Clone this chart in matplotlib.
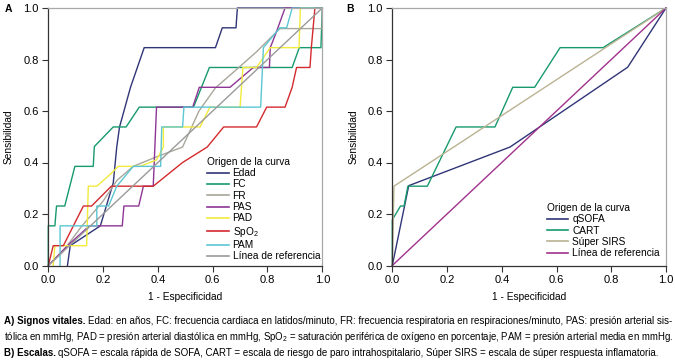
import matplotlib
matplotlib.use("Agg")
import matplotlib.pyplot as plt

plt.rcParams['font.family'] = ['Liberation Sans', 'DejaVu Sans']
plt.rcParams['mathtext.default'] = 'regular'

# ---- panel A: vital signs ROC curves (1 - specificity, sensitivity)
edad_x = [0.07, 0.07, 0.08, 0.19, 0.237, 0.243, 0.25, 0.26, 0.30, 0.35, 0.61, 0.635, 0.685, 0.69, 1.0]
edad_y = [0.0, 0.0, 0.077, 0.154, 0.32, 0.385, 0.462, 0.538, 0.692, 0.846, 0.846, 0.923, 0.923, 1.0, 1.0]
fc_x = [0.0, 0.0, 0.024, 0.03, 0.06, 0.097, 0.164, 0.168, 0.237, 0.284, 0.332, 0.53, 0.588, 0.89, 0.916, 0.995, 1.0]
fc_y = [0.0, 0.154, 0.154, 0.231, 0.231, 0.385, 0.385, 0.462, 0.538, 0.538, 0.615, 0.615, 0.769, 0.769, 0.846, 0.846, 1.0]
fr_x = [0.0, 0.05, 0.12, 0.2, 0.25, 0.31, 0.39, 0.49, 0.55, 0.61, 0.675, 0.76, 0.845, 1.0, 1.0]
fr_y = [0.0, 0.05, 0.15, 0.25, 0.33, 0.385, 0.42, 0.46, 0.60, 0.69, 0.75, 0.83, 0.92, 0.92, 1.0]
pas_x = [0.0, 0.07, 0.15, 0.27, 0.276, 0.33, 0.347, 0.383, 0.395, 0.527, 0.551, 0.663, 0.748, 0.807, 0.81, 0.83, 0.864, 1.0]
pas_y = [0.0, 0.077, 0.154, 0.154, 0.231, 0.231, 0.308, 0.308, 0.615, 0.615, 0.692, 0.692, 0.769, 0.769, 0.846, 0.9, 1.0, 1.0]
pad_x = [0.018, 0.024, 0.14, 0.146, 0.177, 0.23, 0.255, 0.335, 0.395, 0.42, 0.42, 0.554, 0.59, 0.70, 0.71, 0.76, 0.81, 0.915, 0.92, 1.0]
pad_y = [0.0, 0.077, 0.077, 0.308, 0.308, 0.358, 0.385, 0.385, 0.41, 0.46, 0.538, 0.538, 0.615, 0.615, 0.769, 0.769, 0.846, 0.846, 1.0, 1.0]
spo2_x = [0.0, 0.018, 0.055, 0.128, 0.158, 0.23, 0.383, 0.49, 0.58, 0.64, 0.76, 0.797, 0.864, 0.89, 0.906, 0.955, 0.96, 0.973, 1.0]
spo2_y = [0.0, 0.077, 0.077, 0.231, 0.231, 0.308, 0.308, 0.40, 0.46, 0.538, 0.538, 0.615, 0.615, 0.692, 0.769, 0.769, 0.846, 1.0, 1.0]
pam_x = [0.043, 0.043, 0.177, 0.177, 0.22, 0.25, 0.31, 0.41, 0.414, 0.49, 0.495, 0.775, 0.785, 0.845, 0.87, 0.89, 1.0]
pam_y = [0.0, 0.154, 0.154, 0.231, 0.231, 0.308, 0.385, 0.385, 0.538, 0.538, 0.615, 0.615, 0.846, 0.923, 0.923, 1.0, 1.0]
ref_x = [0.0, 1.0]
ref_y = [0.0, 1.0]

# ---- panel B: scales
qsofa_x = [0.0, 0.06, 0.43, 0.86, 1.0]
qsofa_y = [0.0, 0.31, 0.46, 0.77, 1.0]
cart_x = [0.0, 0.0, 0.03, 0.043, 0.057, 0.128, 0.233, 0.375, 0.44, 0.52, 0.613, 0.77, 1.0]
cart_y = [0.0, 0.177, 0.231, 0.231, 0.308, 0.308, 0.538, 0.538, 0.692, 0.692, 0.846, 0.846, 1.0]
sirs_x = [0.0, 0.006, 1.0]
sirs_y = [0.0, 0.308, 1.0]

curves_a = [
    ("Edad", edad_x, edad_y, "#2f3577"),
    ("FC", fc_x, fc_y, "#179a6c"),
    ("FR", fr_x, fr_y, "#a9a79b"),
    ("PAS", pas_x, pas_y, "#8e3596"),
    ("PAD", pad_x, pad_y, "#f2ea3c"),
    ("SpO$_2$", spo2_x, spo2_y, "#d42a2e"),
    ("PAM", pam_x, pam_y, "#5cc6d2"),
    ("Línea de referencia", ref_x, ref_y, "#9a9a9a"),
]
curves_b = [
    ("qSOFA", qsofa_x, qsofa_y, "#2f3577"),
    ("CART", cart_x, cart_y, "#179a6c"),
    ("Súper SIRS", sirs_x, sirs_y, "#b9b293"),
    ("Línea de referencia", ref_x, ref_y, "#a0328c"),
]

W, H = 675, 361
fig = plt.figure(figsize=(W / 100, H / 100), dpi=100)


def setup(ax):
    ax.set_xlim(0, 1)
    ax.set_ylim(0, 1)
    ticks = [0.0, 0.2, 0.4, 0.6, 0.8, 1.0]
    ax.set_xticks(ticks)
    ax.set_yticks(ticks)
    ax.set_xticklabels(["%.1f" % t for t in ticks])
    ax.set_yticklabels(["%.1f" % t for t in ticks])
    ax.tick_params(direction='out', length=4, width=0.8, labelsize=8,
                   color="#333333", pad=3)
    for s in ["left", "bottom"]:
        ax.spines[s].set_color("#333333")
        ax.spines[s].set_linewidth(0.9)
    for s in ["top", "right"]:
        ax.spines[s].set_color("#a8a8a8")
        ax.spines[s].set_linewidth(0.9)
    ax.set_xlabel("1 - Especificidad", fontsize=7.3)
    ax.set_ylabel("Sensibilidad", fontsize=7.3)
    ax.xaxis.set_label_coords(0.5, -0.102)
    ax.yaxis.set_label_coords(-0.125, 0.5)


ax_a = fig.add_axes([48.3 / W, 1 - 265.5 / H, 274 / W, 257.5 / H])
ax_b = fig.add_axes([392.3 / W, 1 - 265.5 / H, 273.7 / W, 257.5 / H])

for ax, curves, anchor in [(ax_a, curves_a, (0.58, 0.422)),
                           (ax_b, curves_b, (0.565, 0.243))]:
    setup(ax)
    for name, xs, ys, col in curves:
        ax.plot(xs, ys, color=col, lw=1.0, label=name, clip_on=False)
    leg = ax.legend(loc="upper left", bbox_to_anchor=anchor, frameon=False,
                    title="Origen de la curva", fontsize=7.3,
                    title_fontsize=7.3, alignment="left", borderpad=0,
                    borderaxespad=0, handlelength=2.1, handletextpad=0.4,
                    labelspacing=0.13)
    for line in leg.get_lines():
        line.set_linewidth(1.2)

fig.text(8 / W, 1 - 9 / H, "A", fontsize=7.5, weight="bold", ha="center", va="center")
fig.text(350 / W, 1 - 9 / H, "B", fontsize=7.5, weight="bold", ha="center", va="center")

# ---- caption with bold lead-ins
renderer = fig.canvas.get_renderer()


def rich_line(y_px, parts, size):
    x = 4 / W
    for text, weight in parts:
        t = fig.text(x, 1 - y_px / H, text, fontsize=size, weight=weight,
                     ha="left", va="center")
        bb = t.get_window_extent(renderer=renderer)
        x = bb.x1 / W + 2.5 / W


rich_line(321, [("A) Signos vitales.", "bold"),
                ("Edad: en años, FC: frecuencia cardiaca en latidos/minuto, FR: frecuencia respiratoria "
                 "en respiraciones/minuto, PAS: presión arterial sis-", "normal")], 7.0)
rich_line(337, [("tólica en mmHg, PAD = presión arterial diastólica en mmHg, SpO$_2$ = saturación periférica "
                 "de oxígeno en porcentaje, PAM = presión arterial media en mmHg.", "normal")], 6.9)
rich_line(353, [("B) Escalas.", "bold"),
                ("qSOFA = escala rápida de SOFA, CART = escala de riesgo de paro intrahospitalario, "
                 "Súper SIRS = escala de súper respuesta inflamatoria.", "normal")], 7.0)

fig.savefig("out.png", dpi=100)
